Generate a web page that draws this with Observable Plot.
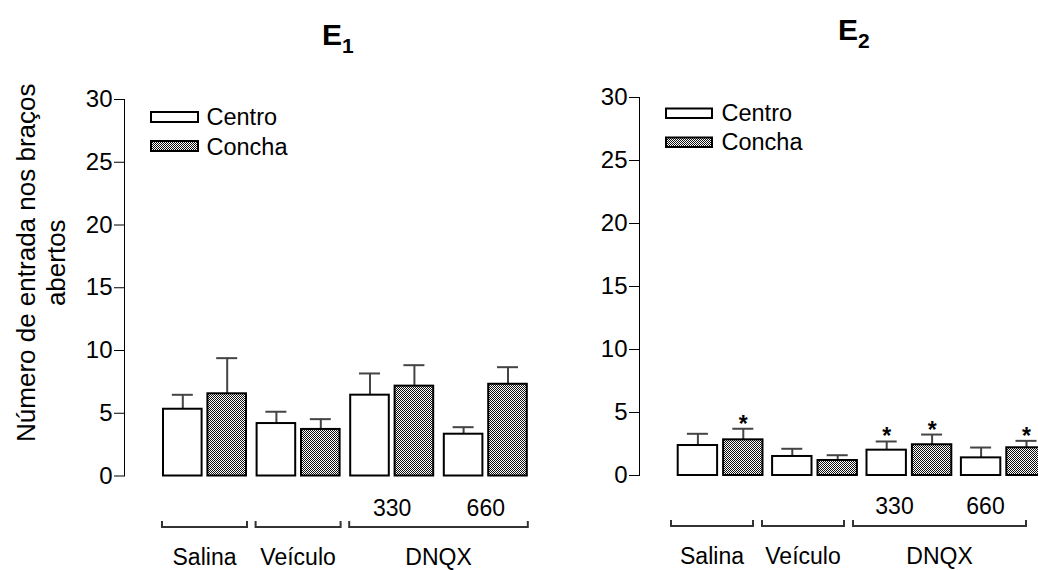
<!DOCTYPE html>
<html>
<head>
<meta charset="utf-8">
<script src="https://cdn.jsdelivr.net/npm/d3@7"></script>
<script src="https://cdn.jsdelivr.net/npm/@observablehq/plot@0.6"></script>
<style>
  html, body { margin: 0; padding: 0; background: #fff; overflow: hidden; }
  #root { position: relative; width: 1038px; height: 570px; overflow: hidden; background: #fff;
          font-family: "Liberation Sans", Arial, sans-serif; }
  #root > svg.layer { position: absolute; left: 0; top: 0; }
</style>
</head>
<body>
<div id="root">
  <svg width="0" height="0" style="position:absolute;left:0;top:0">
    <defs>
      <pattern id="concha" width="2" height="2" patternUnits="userSpaceOnUse">
        <rect width="2" height="2" fill="#ffffff"></rect>
        <rect x="0" y="0" width="1" height="1" fill="#111"></rect>
        <rect x="1" y="1" width="1" height="1" fill="#111"></rect>
      </pattern>
    </defs>
  </svg>
</div>
<script>
// ---------------- data ----------------
const groups = ["Salina", "Veículo", "330", "660"];
const doseLabels = ["", "", "330", "660"];
const conditions = ["Salina", "Veículo", "DNQX", "DNQX"];
const seriesNames = ["Centro", "Concha"];
const yTicks = [0, 5, 10, 15, 20, 25, 30];
const yLabel = "Número de entrada nos braços\nabertos";
const panelTitles = ["E", "E"];
const panelSubs = ["1", "2"];

// E1
const e1CentroMean = [5.32, 4.18, 6.44, 3.33];
const e1CentroSem  = [1.15, 0.94, 1.73, 0.56];
const e1ConchaMean = [6.55, 3.71, 7.16, 7.31];
const e1ConchaSem  = [2.84, 0.82, 1.67, 1.36];
const e1CentroSig  = [false, false, false, false];
const e1ConchaSig  = [false, false, false, false];

// E2
const e2CentroMean = [2.38, 1.51, 2.01, 1.40];
const e2CentroSem  = [0.93, 0.61, 0.69, 0.82];
const e2ConchaMean = [2.83, 1.19, 2.44, 2.20];
const e2ConchaSem  = [0.88, 0.42, 0.81, 0.55];
const e2CentroSig  = [false, false, true, false];
const e2ConchaSig  = [true, false, true, true];

// ---------------- layout ----------------
const W = 1038, H = 570;
const FONT = "Liberation Sans, Arial, sans-serif";
const panels = [
  { axisX: 124, yTop: 99, y0: 475.5, start: 163, step: 93.6, barW: 38.6, gap: 5.8,
    aStart: 162, aStep: 93.6, aBw: 85, doseDy: 24, brTop: 45.5, brY: 51.5, lblY: 89.5,
    centroMean: e1CentroMean, centroSem: e1CentroSem, conchaMean: e1ConchaMean, conchaSem: e1ConchaSem,
    centroSig: e1CentroSig, conchaSig: e1ConchaSig,
    titleX: 322, titleY: 45,
    legX: 151, legY: [112, 141], legW: 47, legH: 10, legTextX: 206.5, legTextY: [125, 155] },
  { axisX: 639, yTop: 97, y0: 475, start: 677.7, step: 94.4, barW: 39.4, gap: 6,
    aStart: 671, aStep: 91, aBw: 82, doseDy: 22, brTop: 45, brY: 51, lblY: 89,
    centroMean: e2CentroMean, centroSem: e2CentroSem, conchaMean: e2ConchaMean, conchaSem: e2ConchaSem,
    centroSig: e2CentroSig, conchaSig: e2ConchaSig,
    titleX: 838, titleY: 40,
    legX: 666, legY: [108.5, 137.5], legW: 46, legH: 9.5, legTextX: 721.5, legTextY: [121, 150] }
];

const root = document.getElementById("root");

function bandRange(start, step, bw) {
  const pi = 1 - bw / step;
  return { range: [start, start + step * (groups.length - pi)], pi };
}

panels.forEach((cfg, pIdx) => {
  const rows = [];
  groups.forEach((g, i) => {
    rows.push({ group: g, series: "Centro", mean: cfg.centroMean[i], sem: cfg.centroSem[i], sig: cfg.centroSig[i] });
    rows.push({ group: g, series: "Concha", mean: cfg.conchaMean[i], sem: cfg.conchaSem[i], sig: cfg.conchaSig[i] });
  });
  const centro = rows.filter(d => d.series === "Centro");
  const concha = rows.filter(d => d.series === "Concha");
  const hi = d => d.mean + d.sem;

  const bw = 2 * cfg.barW + cfg.gap;
  const br = bandRange(cfg.start, cfg.step, bw);
  const off = (bw - cfg.barW) / 2;
  const capHalf = 10.5;

  const main = Plot.plot({
    width: W, height: H,
    marginLeft: cfg.axisX, marginRight: 0, marginTop: cfg.yTop, marginBottom: H - cfg.y0,
    style: { background: "transparent", fontFamily: FONT, fontSize: "24px", color: "#000" },
    x: { type: "band", domain: groups, range: br.range, paddingInner: br.pi, paddingOuter: 0, round: false, axis: null },
    y: { domain: [0, 30], ticks: yTicks, tickSize: 10, tickPadding: 2, label: null, line: true },
    marks: [
      Plot.ruleX(centro, { x: "group", y1: "mean", y2: hi, dx: -off, stroke: "#444", strokeWidth: 2 }),
      Plot.ruleX(concha, { x: "group", y1: "mean", y2: hi, dx: off, stroke: "#444", strokeWidth: 2 }),
      Plot.tickY(centro, { x: "group", y: hi, insetLeft: cfg.barW / 2 - capHalf, insetRight: bw - cfg.barW / 2 - capHalf, stroke: "#444", strokeWidth: 2 }),
      Plot.tickY(concha, { x: "group", y: hi, insetLeft: bw - cfg.barW / 2 - capHalf, insetRight: cfg.barW / 2 - capHalf, stroke: "#444", strokeWidth: 2 }),
      Plot.barY(centro, { x: "group", y: "mean", insetRight: bw - cfg.barW, fill: "white", stroke: "black", strokeWidth: 2 }),
      Plot.barY(concha, { x: "group", y: "mean", insetLeft: bw - cfg.barW, fill: "url(#concha)", stroke: "black", strokeWidth: 2 }),
      Plot.text(centro.filter(d => d.sig), { x: "group", y: hi, text: () => "*", dx: -off, dy: 3, lineAnchor: "bottom", fontSize: 23, fontWeight: "bold" }),
      Plot.text(concha.filter(d => d.sig), { x: "group", y: hi, text: () => "*", dx: off, dy: 3, lineAnchor: "bottom", fontSize: 23, fontWeight: "bold" }),
      ...(pIdx === 0 ? [Plot.text([yLabel], { text: d => d, frameAnchor: "left", rotate: -90, dx: -84, dy: -25, lineHeight: 1.15, fontSize: 26, textAnchor: "middle", lineAnchor: "middle" })] : [])
    ]
  });
  main.classList.add("layer");
  root.appendChild(main);

  // annotation strip: dose labels + brackets + condition labels
  const groupRows = groups.map((g, i) => ({ group: g, dose: doseLabels[i], cond: conditions[i] }));
  const ar = bandRange(cfg.aStart, cfg.aStep, cfg.aBw);
  const bracketMark = (index, scales, values, dims) => {
    const x = scales.x, b = x.bandwidth();
    const yb = dims.height - dims.marginBottom;
    const g = d3.create("svg:g");
    const spans = d3.groups(groupRows, d => d.cond).map(([cond, rs]) => ({
      cond, x1: x(rs[0].group), x2: x(rs[rs.length - 1].group) + b
    }));
    for (const s of spans) {
      g.append("path")
        .attr("d", `M${s.x1},${yb + cfg.brTop}V${yb + cfg.brY}H${s.x2}V${yb + cfg.brTop}`)
        .attr("fill", "none").attr("stroke", "#333").attr("stroke-width", 2);
      g.append("text")
        .attr("x", (s.x1 + s.x2) / 2).attr("y", yb + cfg.lblY)
        .attr("text-anchor", "middle").attr("font-size", 23).attr("fill", "#000")
        .text(s.cond);
    }
    return g.node();
  };
  const strip = Plot.plot({
    width: W, height: H,
    marginLeft: 0, marginRight: 0, marginTop: cfg.yTop, marginBottom: H - cfg.y0,
    style: { background: "transparent", fontFamily: FONT, fontSize: "23px", color: "#000" },
    x: { type: "band", domain: groups, range: ar.range, paddingInner: ar.pi, paddingOuter: 0, round: false, axis: null },
    y: { axis: null },
    marks: [
      Plot.text(groupRows, { x: "group", text: "dose", frameAnchor: "bottom", lineAnchor: "top", dy: cfg.doseDy, fontSize: 23 }),
      bracketMark
    ]
  });
  strip.classList.add("layer");
  root.appendChild(strip);

  // title + legend overlay
  const ov = d3.create("svg").attr("class", "layer").attr("width", W).attr("height", H)
    .style("font-family", FONT);
  const t = ov.append("text").attr("x", cfg.titleX).attr("y", cfg.titleY)
    .attr("font-family", "Liberation Sans Narrow, Liberation Sans, sans-serif")
    .attr("font-weight", "bold").attr("font-size", 30).text(panelTitles[pIdx]);
  t.append("tspan").attr("dy", 8).attr("font-size", 21).text(panelSubs[pIdx]);
  seriesNames.forEach((s, i) => {
    ov.append("rect").attr("x", cfg.legX).attr("y", cfg.legY[i]).attr("width", cfg.legW).attr("height", cfg.legH)
      .attr("fill", i === 0 ? "white" : "url(#concha)").attr("stroke", "black").attr("stroke-width", 2);
    ov.append("text").attr("x", cfg.legTextX).attr("y", cfg.legTextY[i]).attr("font-size", 23.5).text(s);
  });
  root.appendChild(ov.node());
});
</script>
</body>
</html>
